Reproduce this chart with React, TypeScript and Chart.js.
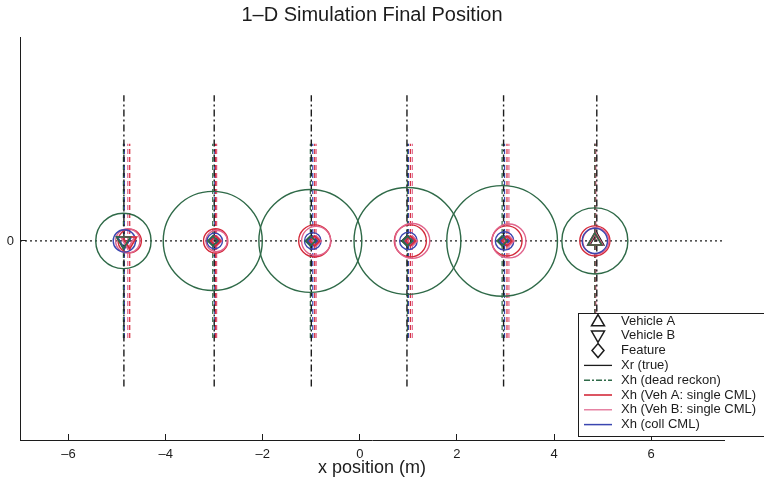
import React, { useEffect, useRef } from 'react';
import { Chart, registerables } from 'chart.js';

Chart.register(...registerables);

// ---------- data ----------
const X_TICKS = [-6, -4, -2, 0, 2, 4, 6];
const Y_TICKS = [0];
const X_RANGE = [-7, 7.5];
const Y_RANGE = [-4.1, 4.2];
const BASELINE_X = [-7, 7.5];

// objects along the 1-D track: vehicle B, four features, vehicle A
const OBJECT_KIND = ['vehicleB', 'feature', 'feature', 'feature', 'feature', 'vehicleA'];
const TRUE_X = [-4.86, -3.0, -1.0, 0.97, 2.96, 4.88];
const DR_X = [-4.87, -3.03, -1.02, 0.98, 2.93, 4.84];
const VA_X = [-4.74, -2.97, -0.93, 1.04, 3.03, 4.84];
const VB_X = [-4.78, -2.95, -0.9, 1.08, 3.07, 4.86];
const CO_X = [-4.85, -2.99, -0.97, 1.0, 2.98, 4.84];

// 1-sigma radii of each estimate
const DR_SIGMA = [0.57, 1.02, 1.06, 1.1, 1.14, 0.68];
const VA_SIGMA = [0.24, 0.25, 0.33, 0.33, 0.31, 0.31];
const VB_SIGMA = [0.25, 0.22, 0.3, 0.36, 0.35, 0.27];
const CO_SIGMA = [0.23, 0.16, 0.17, 0.18, 0.19, 0.26];

const TRUE_HALF_SPAN = 3;
const EST_HALF_SPAN = 2;

const LEGEND_LABELS = [
  'Vehicle A',
  'Vehicle B',
  'Feature',
  'Xr (true)',
  'Xh (dead reckon)',
  'Xh (Veh A: single CML)',
  'Xh (Veh B: single CML)',
  'Xh (coll CML)',
];

// ---------- styles ----------
const BLACK = '#1c1c1c';
const GREEN = '#2f6a48';
const RED = '#d42a3a';
const MAGENTA = '#e0648c';
const BLUE = '#3a46b0';
const FONT = "'Liberation Sans', Arial, Helvetica, sans-serif";

const ESTIMATORS = [
  { xs: DR_X, sigma: DR_SIGMA, color: GREEN },
  { xs: VA_X, sigma: VA_SIGMA, color: RED },
  { xs: VB_X, sigma: VB_SIGMA, color: MAGENTA },
  { xs: CO_X, sigma: CO_SIGMA, color: BLUE },
];

function vline(x: number, half: number) {
  return [
    { x, y: -half },
    { x, y: half },
  ];
}

function buildDatasets() {
  const ds: any[] = [];
  // markers (drawn on top: order 0)
  const markerStyle = (kind: string) =>
    kind === 'feature'
      ? { pointStyle: 'rectRot', pointRadius: 5, pointRotation: 0 }
      : kind === 'vehicleA'
      ? { pointStyle: 'triangle', pointRadius: 8, pointRotation: 0 }
      : { pointStyle: 'triangle', pointRadius: 8, pointRotation: 180 };
  const kinds = ['feature', 'vehicleA', 'vehicleB'];
  const markerSources = [
    { xs: DR_X, color: GREEN },
    { xs: VA_X, color: RED },
    { xs: VB_X, color: MAGENTA },
    { xs: CO_X, color: BLUE },
    { xs: TRUE_X, color: BLACK },
  ];
  markerSources.forEach((src) => {
    kinds.forEach((kind) => {
      const pts = src.xs
        .map((x, i) => ({ x, y: 0, k: OBJECT_KIND[i] }))
        .filter((p) => p.k === kind)
        .map((p) => ({ x: p.x, y: 0 }));
      ds.push({
        type: 'scatter',
        data: pts,
        showLine: false,
        borderColor: src.color,
        backgroundColor: 'rgba(0,0,0,0)',
        pointBorderWidth: 1.6,
        order: 0,
        isMarker: true,
        ...markerStyle(kind),
      });
    });
  });
  // dotted baseline
  ds.push({
    type: 'scatter',
    data: BASELINE_X.map((x) => ({ x, y: 0 })),
    showLine: true,
    borderColor: BLACK,
    borderWidth: 1.2,
    borderDash: [2, 3],
    pointRadius: 0,
    order: 2,
  });
  // dashed estimate lines
  ESTIMATORS.forEach((est) => {
    est.xs.forEach((x) => {
      ds.push({
        type: 'scatter',
        data: vline(x, EST_HALF_SPAN),
        showLine: true,
        borderColor: est.color,
        borderWidth: 1.2,
        borderDash: [5, 3],
        pointRadius: 0,
        order: 2,
      });
    });
  });
  // true position dash-dot lines
  TRUE_X.forEach((x) => {
    ds.push({
      type: 'scatter',
      data: vline(x, TRUE_HALF_SPAN),
      showLine: true,
      borderColor: BLACK,
      borderWidth: 1.4,
      borderDash: [7, 3, 2, 3],
      pointRadius: 0,
      order: 1,
    });
  });
  return ds;
}

function drawCircles(chart: any) {
  const { ctx, scales, chartArea } = chart;
  const xs = scales.x;
  const ys = scales.y;
  ctx.save();
  ctx.beginPath();
  ctx.rect(chartArea.left, chartArea.top, chartArea.right - chartArea.left, chartArea.bottom - chartArea.top);
  ctx.clip();
  ESTIMATORS.forEach((est) => {
    ctx.strokeStyle = est.color;
    ctx.lineWidth = 1.4;
    est.xs.forEach((cx, i) => {
      const r = est.sigma[i];
      const px = xs.getPixelForValue(cx);
      const py = ys.getPixelForValue(0);
      const rx = Math.abs(xs.getPixelForValue(cx + r) - px);
      const ry = Math.abs(ys.getPixelForValue(r) - py);
      ctx.beginPath();
      ctx.ellipse(px, py, rx, ry, 0, 0, Math.PI * 2);
      ctx.stroke();
    });
  });
  ctx.restore();
}

const circlePlugin = {
  id: 'sigmaCircles',
  beforeDatasetsDraw(chart: any) {
    chart.$circlesDone = false;
  },
  beforeDatasetDraw(chart: any, args: any) {
    const d = chart.data.datasets[args.index];
    if (d.isMarker && !chart.$circlesDone) {
      drawCircles(chart);
      chart.$circlesDone = true;
    }
  },
};

function triPath(ctx: CanvasRenderingContext2D, x: number, y: number, r: number, rotDeg: number) {
  let rad = (rotDeg * Math.PI) / 180;
  ctx.beginPath();
  for (let k = 0; k < 3; k++) {
    const px = x + Math.sin(rad) * r;
    const py = y - Math.cos(rad) * r;
    if (k === 0) ctx.moveTo(px, py);
    else ctx.lineTo(px, py);
    rad += (2 * Math.PI) / 3;
  }
  ctx.closePath();
}

const legendPlugin = {
  id: 'boxLegend',
  afterDraw(chart: any) {
    const ctx: CanvasRenderingContext2D = chart.ctx;
    const left = 578;
    const top = 313;
    const bottom = 436;
    const rowY0 = 321;
    const rowStep = 14.8;
    ctx.save();
    ctx.fillStyle = '#ffffff';
    ctx.fillRect(left, top, 200, bottom - top);
    ctx.strokeStyle = BLACK;
    ctx.lineWidth = 1;
    ctx.strokeRect(left + 0.5, top + 0.5, 200, bottom - top);
    const lineStyles = [
      { color: BLACK, dash: [] as number[], w: 1.3 },
      { color: GREEN, dash: [6, 2, 2, 2], w: 1.5 },
      { color: RED, dash: [], w: 1.6 },
      { color: MAGENTA, dash: [], w: 1.2 },
      { color: BLUE, dash: [], w: 1.5 },
    ];
    LEGEND_LABELS.forEach((label, i) => {
      const y = rowY0 + i * rowStep;
      const cx = 598;
      ctx.strokeStyle = BLACK;
      ctx.lineWidth = 1.5;
      ctx.setLineDash([]);
      if (i === 0) {
        triPath(ctx, cx, y + 1, 7.5, 0);
        ctx.stroke();
      } else if (i === 1) {
        triPath(ctx, cx, y - 1, 7.5, 180);
        ctx.stroke();
      } else if (i === 2) {
        ctx.beginPath();
        ctx.moveTo(cx, y - 7);
        ctx.lineTo(cx + 6, y);
        ctx.lineTo(cx, y + 7);
        ctx.lineTo(cx - 6, y);
        ctx.closePath();
        ctx.stroke();
      } else {
        const st = lineStyles[i - 3];
        ctx.strokeStyle = st.color;
        ctx.lineWidth = st.w;
        ctx.setLineDash(st.dash);
        ctx.beginPath();
        ctx.moveTo(584, y);
        ctx.lineTo(612, y);
        ctx.stroke();
        ctx.setLineDash([]);
      }
      ctx.fillStyle = BLACK;
      ctx.font = `13px ${FONT}`;
      ctx.textBaseline = 'middle';
      ctx.textAlign = 'left';
      ctx.fillText(label, 621, y);
    });
    ctx.restore();
  },
};

const tickLabel = (v: number) => (v < 0 ? '\u2013' + Math.abs(v) : String(v));

export default function App() {
  const ref = useRef<HTMLCanvasElement | null>(null);
  useEffect(() => {
    if (!ref.current) return;
    const chart = new Chart(ref.current, {
      type: 'scatter',
      data: { datasets: buildDatasets() },
      plugins: [circlePlugin, legendPlugin],
      options: {
        animation: false,
        responsive: false,
        events: [],
        layout: { padding: { left: 0, right: 40, top: 0, bottom: 0 } },
        plugins: {
          legend: { display: false },
          tooltip: { enabled: false },
          title: {
            display: true,
            text: '1\u2013D Simulation Final Position',
            color: BLACK,
            fullSize: false,
            font: { family: FONT, size: 20, weight: 'normal' },
            padding: { top: 3, bottom: 10 },
          },
        },
        scales: {
          x: {
            type: 'linear',
            position: 'bottom',
            min: X_RANGE[0],
            max: X_RANGE[1],
            afterBuildTicks: (s: any) => {
              s.ticks = X_TICKS.map((v) => ({ value: v }));
            },
            afterFit: (s: any) => {
              s.height = 45;
            },
            grid: { display: true, drawOnChartArea: false, drawTicks: true, tickLength: -6, color: BLACK, lineWidth: 1 },
            border: { display: true, color: BLACK, width: 1 },
            ticks: {
              autoSkip: false,
              maxRotation: 0,
              padding: 13,
              color: BLACK,
              font: { family: FONT, size: 13 },
              callback: (v: any) => tickLabel(Number(v)),
            },
            title: {
              display: true,
              text: 'x position (m)',
              color: BLACK,
              font: { family: FONT, size: 18 },
              padding: { top: 0, bottom: 6 },
            },
          },
          y: {
            type: 'linear',
            position: 'left',
            min: Y_RANGE[0],
            max: Y_RANGE[1],
            afterBuildTicks: (s: any) => {
              s.ticks = Y_TICKS.map((v) => ({ value: v }));
            },
            afterFit: (s: any) => {
              s.width = 20;
            },
            grid: { display: true, drawOnChartArea: false, drawTicks: true, tickLength: -6, color: BLACK, lineWidth: 1 },
            border: { display: true, color: BLACK, width: 1 },
            ticks: {
              autoSkip: false,
              padding: 12,
              color: BLACK,
              font: { family: FONT, size: 13 },
              callback: (v: any) => tickLabel(Number(v)),
            },
          },
        },
      } as any,
    });
    return () => chart.destroy();
  }, []);
  return (
    <div style={{ position: 'absolute', left: 0, top: 0, width: 764, height: 485, background: '#fff' }}>
      <canvas ref={ref} width={764} height={485} />
    </div>
  );
}
